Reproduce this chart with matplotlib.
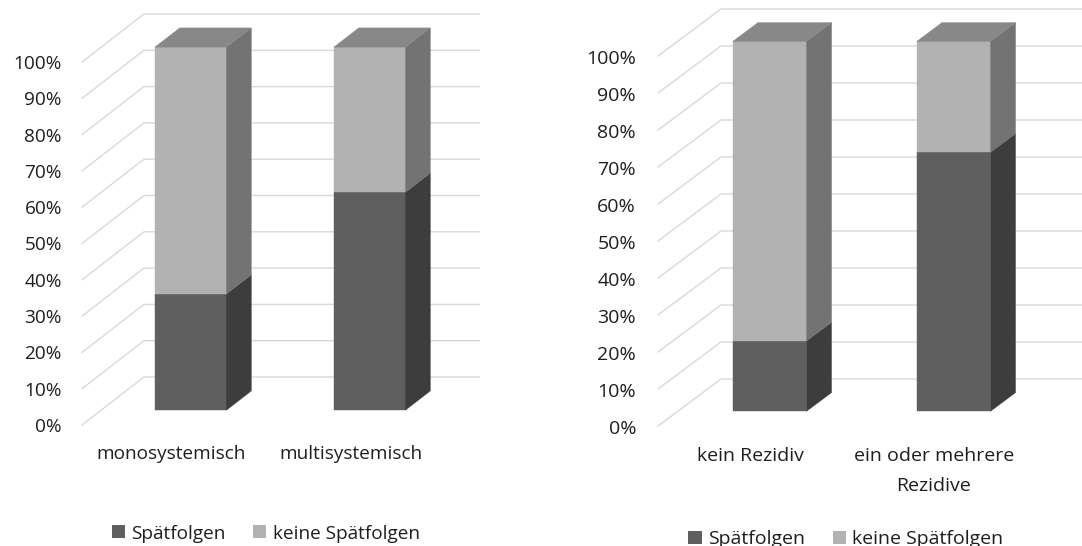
import matplotlib
matplotlib.use("Agg")
import matplotlib.pyplot as plt
from matplotlib.patches import Polygon, Patch
from matplotlib.transforms import offset_copy

plt.rcParams['font.family'] = ['Open Sans', 'DejaVu Sans']

# Organbefall
cats_a = ["monosystemisch", "multisystemisch"]
spaet_a = [32, 60]
keine_a = [68, 40]

# Rezidive
cats_b = ["kein Rezidiv", "ein oder mehrere\nRezidive"]
spaet_b = [19, 70]
keine_b = [81, 30]

series_names = ["Spätfolgen", "keine Spätfolgen"]
yticks = list(range(0, 101, 10))
tick_labels = [f"{t}%" for t in yticks]

FRONT = ["#5f5f5f", "#b2b2b2"]
SIDE = ["#3d3d3d", "#737373"]
TOP = ["#4d4d4d", "#888888"]
GRID = "#d9d9d9"
TEXT = "#1e1e1e"

W_PX, H_PX, DPI = 1082, 546, 100
fig = plt.figure(figsize=(W_PX / DPI, H_PX / DPI), dpi=DPI)
fig.patch.set_facecolor("white")


def panel(px0, px1, origin, unit_x, unit_z, depth_px, cats, spaet, keine,
          fs, tick_dx, tick_dy, cat_base_px, line_step, legend_center):
    ox, oy = origin
    ax = fig.add_axes([px0 / W_PX, 0, (px1 - px0) / W_PX, 1])
    ax.set_xlim((px0 - ox) / unit_x, (px1 - ox) / unit_x)
    ax.set_ylim((oy - H_PX) / unit_z, oy / unit_z)
    ax.axis("off")
    ddx = depth_px[0] / unit_x
    ddz = depth_px[1] / unit_z

    def P(x, z, d):
        return (x + d * ddx, z + d * ddz)

    n = len(cats)
    # side wall and back wall gridlines
    for t in yticks:
        pts = [P(0, t, 0), P(0, t, 1), P(n, t, 1)]
        ax.plot([p[0] for p in pts], [p[1] for p in pts], color=GRID,
                lw=1.0, solid_joinstyle="miter", zorder=1)

    # stacked 3D columns
    da, db = 0.31, 0.71
    for i in range(n):
        xa, xb = i + 0.3, i + 0.7
        bounds = [(0, spaet[i]), (spaet[i], spaet[i] + keine[i])]
        for k, (z0, z1) in enumerate(bounds):
            front = [P(xa, z0, da), P(xb, z0, da), P(xb, z1, da), P(xa, z1, da)]
            side = [P(xb, z0, da), P(xb, z0, db), P(xb, z1, db), P(xb, z1, da)]
            ax.add_patch(Polygon(front, closed=True, facecolor=FRONT[k],
                                 edgecolor=FRONT[k], lw=0.3, zorder=3))
            ax.add_patch(Polygon(side, closed=True, facecolor=SIDE[k],
                                 edgecolor=SIDE[k], lw=0.3, zorder=3))
        ztop = spaet[i] + keine[i]
        top = [P(xa, ztop, da), P(xb, ztop, da), P(xb, ztop, db), P(xa, ztop, db)]
        ax.add_patch(Polygon(top, closed=True, facecolor=TOP[1],
                             edgecolor=TOP[1], lw=0.3, zorder=3))

    # value axis labels along the front edge of the side wall
    tr = offset_copy(ax.transData, fig=fig, x=tick_dx, y=tick_dy, units="dots")
    for t, lab in zip(yticks, tick_labels):
        ax.text(0, t, lab, transform=tr, ha="right", va="center",
                fontsize=fs, color=TEXT)

    # category labels below the floor
    for i, cat in enumerate(cats):
        for j, line in enumerate(cat.split("\n")):
            trc = offset_copy(ax.transData, fig=fig, x=0,
                              y=-(cat_base_px - oy) - j * line_step, units="dots")
            ax.text(i + 0.5, 0, line, transform=trc, ha="center",
                    va="baseline", fontsize=fs, color=TEXT)

    handles = [Patch(facecolor=FRONT[k], edgecolor="none") for k in range(2)]
    fig.legend(handles, series_names, loc="center", ncol=2,
               bbox_to_anchor=(legend_center[0] / W_PX, 1 - legend_center[1] / H_PX),
               bbox_transform=fig.transFigure, frameon=False, fontsize=fs,
               handlelength=0.68, handleheight=0.68, handletextpad=0.32,
               columnspacing=1.45, borderpad=0, borderaxespad=0,
               labelcolor=TEXT)


panel(0, 480, (82, 425), 179, 3.63, (62, 48), cats_a, spaet_a, keine_a,
      fs=13.7, tick_dx=-20, tick_dy=-2, cat_base_px=459, line_step=29.7,
      legend_center=(266, 533.6))
panel(541, 1082, (658, 426), 184, 3.70, (63, 47), cats_b, spaet_b, keine_b,
      fs=14.0, tick_dx=-22, tick_dy=-3, cat_base_px=461, line_step=29.7,
      legend_center=(846, 539))

fig.savefig("out.png", dpi=DPI, facecolor="white")
